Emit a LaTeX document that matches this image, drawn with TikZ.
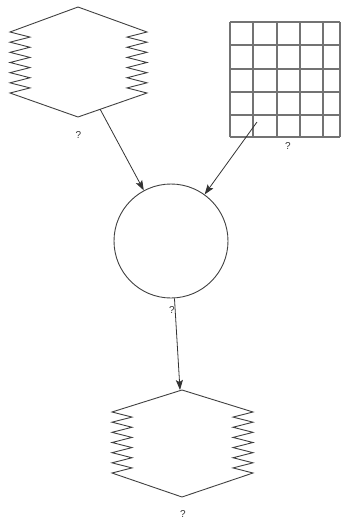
\documentclass[tikz,border=0pt]{standalone}
\usepackage{fontspec}
\setmainfont{Liberation Sans}
\usetikzlibrary{arrows.meta}
\newcommand\zighex[7]{% cx top left right zt zb bot
  \draw[shapeline] (#1,-#2) -- (#3,-#5)
    \foreach \i in {1,...,12} { -- ({#3+20*mod(\i,2)},{-(#5+\i*(#6-#5)/12)}) }
    -- (#1,-#7) -- (#4,-#6)
    \foreach \i in {1,...,12} { -- ({#4-20*mod(\i,2)},{-(#6-\i*(#6-#5)/12)}) }
    -- cycle;}
\begin{document}
\begin{tikzpicture}[x=1pt,y=1pt,
  shapeline/.style={draw=black!75, line width=0.9pt, line join=miter},
  gridline/.style={draw=black!55, line width=1.4pt},
  conn/.style={draw=black!80, line width=0.8pt, -{Stealth[length=10pt,width=7pt,inset=2pt]}},
  qlabel/.style={font=\fontsize{10}{11}\selectfont, text=black!80, inner sep=0pt}]
\useasboundingbox (0,0) rectangle (341,-523);
% top-left zigzag hexagon
\zighex{78}{7}{10}{147}{32}{93}{117}
\coordinate (h1out) at (100,-109);
\node[qlabel] (l1) at (78.5,-135) {?};
% grid
\foreach \x in {230,253,277,300,323,340} \draw[gridline] (\x,-22) -- (\x,-137);
\foreach \y in {22,45,69,92,115,137} \draw[gridline] (230,-\y) -- (340,-\y);
\node[minimum width=110pt, minimum height=115pt, inner sep=0pt] (grid) at (285,-79.5) {};
\coordinate (gout) at (257,-122);
\node[qlabel] (l2) at (288,-146) {?};
% circle
\node[circle, shapeline, minimum size=114pt, inner sep=0pt] (circ) at (171,-241) {};
\node[qlabel] (l3) at (172,-310) {?};
% bottom zigzag hexagon
\zighex{182}{390}{112}{253}{412}{473}{497}
\coordinate (h2in) at (180,-390);
\node[qlabel] (l4) at (183,-514) {?};
% connectors
\draw[conn] (h1out) -- (circ);
\draw[conn] (gout) -- (circ);
\draw[conn] (circ) -- (h2in);
\end{tikzpicture}
\end{document}
